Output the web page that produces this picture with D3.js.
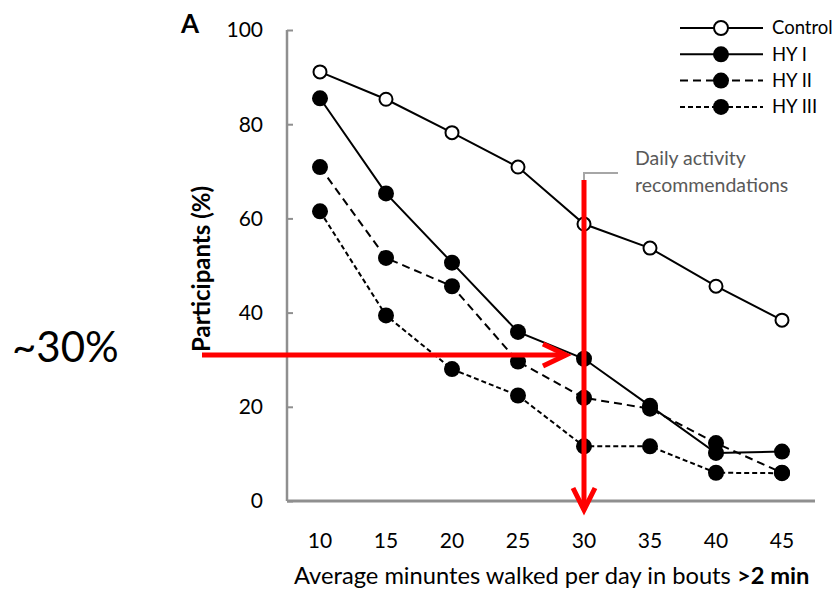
<!DOCTYPE html>
<html>
<head>
<meta charset="utf-8">
<script src="https://cdn.jsdelivr.net/npm/d3@7"></script>
<style>
  body { margin: 0; background: #fff; }
  svg { display: block; font-family: Lato, "Open Sans", sans-serif; }
</style>
</head>
<body>
<script>
// data
const minutes = [10, 15, 20, 25, 30, 35, 40, 45];
const control = [91.1, 85.3, 78.2, 70.9, 58.8, 53.7, 45.6, 38.4];
const hy1 = [85.5, 65.3, 50.6, 35.9, 30.2, 20.2, 10.2, 10.5];
const hy2 = [70.9, 51.6, 45.6, 29.6, 21.9, 19.6, 12.3, 6.0];
const hy3 = [61.5, 39.4, 28.0, 22.4, 11.6, 11.6, 6.0, 5.9];
const yTicks = [0, 20, 40, 60, 80, 100];
const seriesNames = ['Control', 'HY I', 'HY II', 'HY III'];
const recMinutes = 30;   // daily activity recommendation
const recLevel = 31;     // ~30%

const W = 840, H = 590;

const svg = d3.select('body').append('svg')
    .attr('width', W)
    .attr('height', H);

const x = d3.scalePoint()
    .domain(minutes)
    .range([287, 815])
    .padding(0.5);

const y = d3.scaleLinear()
    .domain([0, 100])
    .range([501, 30]);

const series = [
  {name: seriesNames[0], values: control, dash: null, open: true},
  {name: seriesNames[1], values: hy1, dash: null, open: false},
  {name: seriesNames[2], values: hy2, dash: '8,5', open: false},
  {name: seriesNames[3], values: hy3, dash: '5,3', open: false}
];

// axes
const yAxis = svg.append('g')
    .attr('transform', 'translate(287,0)')
    .call(d3.axisRight(y).tickValues(yTicks).tickSize(6).tickFormat(''));
yAxis.select('.domain').attr('stroke', '#8f8f8f').attr('stroke-width', 2.5).attr('d', 'M0,' + y(100) + 'V' + y(0));
yAxis.selectAll('.tick line').attr('stroke', '#8f8f8f').attr('stroke-width', 2);

svg.append('g').selectAll('text')
    .data(yTicks)
    .enter().append('text')
    .attr('x', 263)
    .attr('y', d => y(d))
    .attr('dy', '0.35em')
    .attr('text-anchor', 'end')
    .attr('font-size', 21)
    .attr('fill', '#000')
    .text(d => d);

svg.append('line')
    .attr('x1', 287).attr('x2', 815)
    .attr('y1', y(0)).attr('y2', y(0))
    .attr('stroke', '#8f8f8f')
    .attr('stroke-width', 3);

svg.append('g').selectAll('text')
    .data(minutes)
    .enter().append('text')
    .attr('x', d => x(d))
    .attr('y', 548)
    .attr('text-anchor', 'middle')
    .attr('font-size', 21)
    .text(d => d);

const xt = svg.append('text')
    .attr('x', 294)
    .attr('y', 584)
    .attr('font-size', 23.7);
xt.append('tspan').text('Average minuntes walked per day in bouts ');
xt.append('tspan').attr('font-weight', 'bold').text('>2 min');

svg.append('text')
    .attr('transform', 'translate(210,269) rotate(-90)')
    .attr('text-anchor', 'middle')
    .attr('font-size', 24)
    .attr('font-weight', 'bold')
    .text('Participants (%)');

svg.append('text')
    .attr('x', 181).attr('y', 33)
    .attr('font-size', 26)
    .attr('font-weight', 'bold')
    .text('A');

svg.append('text')
    .attr('x', 12).attr('y', 362)
    .attr('font-size', 42)
    .text('~30%');

// series lines and markers
const line = d3.line()
    .x((d, i) => x(minutes[i]))
    .y(d => y(d));

series.forEach(s => {
  svg.append('path')
      .datum(s.values)
      .attr('d', line)
      .attr('fill', 'none')
      .attr('stroke', '#000')
      .attr('stroke-width', 2)
      .attr('stroke-dasharray', s.dash);
});

series.forEach(s => {
  svg.append('g').selectAll('circle')
      .data(s.values)
      .enter().append('circle')
      .attr('cx', (d, i) => x(minutes[i]))
      .attr('cy', d => y(d))
      .attr('r', s.open ? 6.5 : 8)
      .attr('fill', s.open ? '#fff' : '#000')
      .attr('stroke', '#000')
      .attr('stroke-width', s.open ? 2 : 0);
});

// legend
const legend = svg.append('g');
series.forEach((s, i) => {
  const ly = 28 + i * 26.3;
  legend.append('line')
      .attr('x1', 680).attr('x2', 763)
      .attr('y1', ly).attr('y2', ly)
      .attr('stroke', '#000')
      .attr('stroke-width', 2)
      .attr('stroke-dasharray', s.dash);
  legend.append('circle')
      .attr('cx', 721).attr('cy', ly)
      .attr('r', s.open ? 7 : 8)
      .attr('fill', s.open ? '#fff' : '#000')
      .attr('stroke', '#000')
      .attr('stroke-width', s.open ? 2 : 0);
  legend.append('text')
      .attr('x', 772).attr('y', ly)
      .attr('dy', '0.35em')
      .attr('font-size', 18.5)
      .text(s.name);
});

// recommendation callout
const rx = x(recMinutes);
svg.append('path')
    .attr('d', 'M' + rx + ',181V173H618')
    .attr('fill', 'none')
    .attr('stroke', '#a6a6a6')
    .attr('stroke-width', 2);
const note = svg.append('text')
    .attr('x', 635)
    .attr('font-size', 19.5)
    .attr('fill', '#595959');
note.append('tspan').attr('x', 635).attr('y', 165).text('Daily activity');
note.append('tspan').attr('x', 635).attr('y', 192).text('recommendations');

// red arrows
const ry = y(recLevel);
const red = svg.append('g')
    .attr('fill', 'none')
    .attr('stroke', '#ff0000')
    .attr('stroke-width', 5);
red.append('path').attr('d', 'M202,' + ry + 'H566');
red.append('path').attr('d', 'M543,' + (ry - 11) + 'L566,' + ry + 'L543,' + (ry + 11));
red.append('path').attr('d', 'M' + rx + ',180V510');
red.append('path').attr('d', 'M' + (rx - 11) + ',488L' + rx + ',510L' + (rx + 11) + ',488');
</script>
</body>
</html>
